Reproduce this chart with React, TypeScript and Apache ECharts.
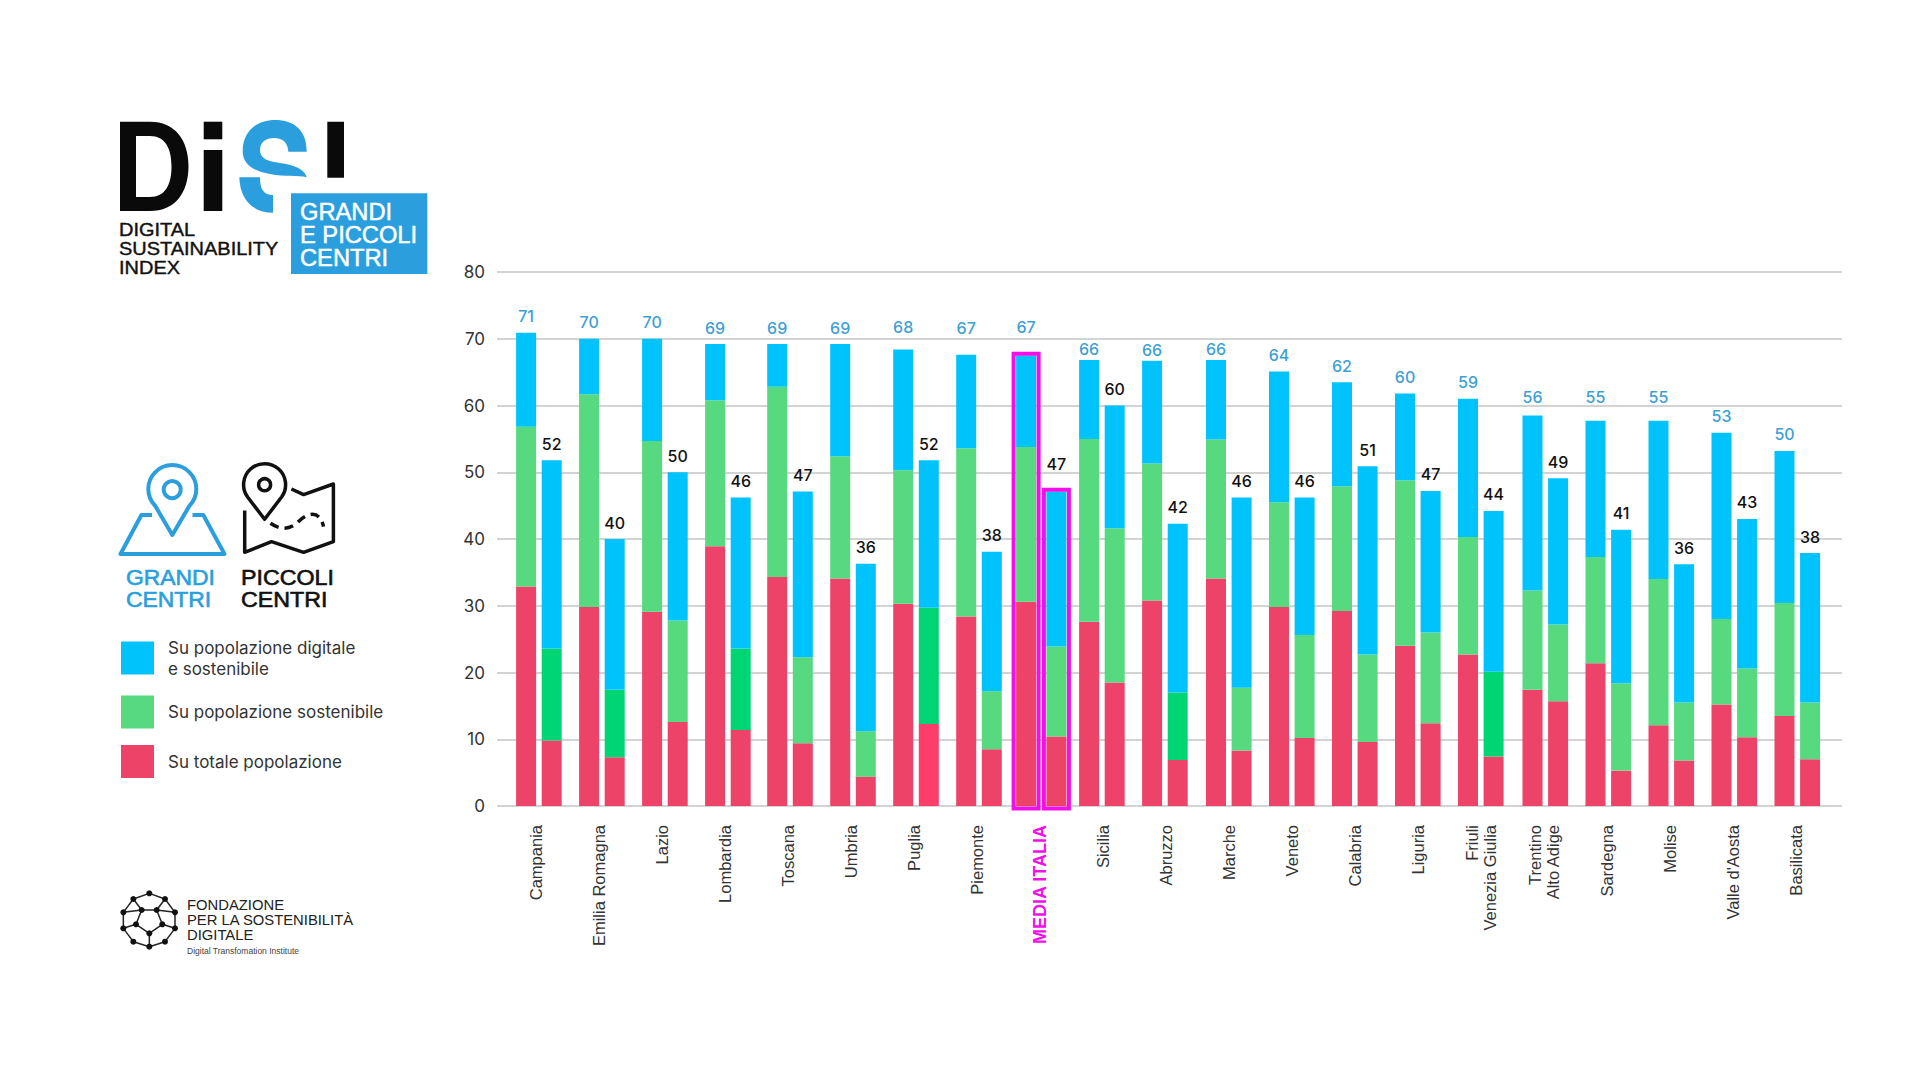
import React, { useEffect, useRef } from "react";
import * as echarts from "echarts";

const regions = [
  "Campania", "Emilia Romagna", "Lazio", "Lombardia", "Toscana", "Umbria", "Puglia",
  "Piemonte", "MEDIA ITALIA", "Sicilia", "Abruzzo", "Marche", "Veneto", "Calabria",
  "Liguria", "Friuli\nVenezia Giulia", "Trentino\nAlto Adige", "Sardegna", "Molise",
  "Valle d'Aosta", "Basilicata",
];
const yTicks = [0, 10, 20, 30, 40, 50, 60, 70, 80];

// heights of each band's upper edge, as read against the gridlines
const grandiRed = [32.9, 29.8, 29.1, 38.9, 34.3, 34.1, 30.3, 28.4, 30.6, 27.6, 30.8, 34.1, 29.8, 29.2, 24.0, 22.7, 17.4, 21.4, 12.1, 15.2, 13.5];
const grandiGreen = [56.8, 61.7, 54.7, 60.8, 62.8, 52.4, 50.3, 53.6, 53.8, 55.0, 51.3, 54.9, 45.5, 47.9, 48.8, 40.3, 32.3, 37.3, 34.0, 28.0, 30.4];
const grandiBlue = [70.9, 70.0, 70.0, 69.2, 69.2, 69.2, 68.4, 67.6, 67.5, 66.8, 66.7, 66.8, 65.1, 63.5, 61.8, 61.0, 58.5, 57.7, 57.7, 55.9, 53.2];
const piccoliRed = [9.8, 7.3, 12.6, 11.4, 9.4, 4.4, 12.3, 8.5, 10.4, 18.5, 6.9, 8.3, 10.2, 9.6, 12.4, 7.4, 15.7, 5.3, 6.8, 10.3, 7.0];
const piccoliGreen = [23.6, 17.4, 27.8, 23.6, 22.3, 11.2, 29.7, 17.2, 23.9, 41.6, 17.0, 17.7, 25.6, 22.7, 26.0, 20.1, 27.2, 18.4, 15.5, 20.6, 15.5];
const piccoliBlue = [51.8, 40.0, 50.0, 46.2, 47.1, 36.3, 51.8, 38.1, 47.1, 60.0, 42.3, 46.2, 46.2, 50.9, 47.2, 44.2, 49.1, 41.4, 36.2, 43.0, 37.9];

// the printed totals
const grandiLabels = [71, 70, 70, 69, 69, 69, 68, 67, 67, 66, 66, 66, 64, 62, 60, 59, 56, 55, 55, 53, 50];
const piccoliLabels = [52, 40, 50, 46, 47, 36, 52, 38, 47, 60, 42, 46, 46, 51, 47, 44, 49, 41, 36, 43, 38];

// piccoli bars printed in a stronger green
const strongGreen = ["Campania", "Emilia Romagna", "Lombardia", "Puglia", "Abruzzo", "Friuli\nVenezia Giulia"];

const RED = "#ED4369";
const GREEN = "#57D97F";
const STRONG_GREEN = "#00D574";
const BLUE = "#00C3FB";
const LOGO_BLUE = "#2B9FDD";
const MAGENTA = "#F20FE8";
const MEDIA = regions.indexOf("MEDIA ITALIA");
const BAR_W = 20;
const NUM_FONT = "Inter";
const TXT_FONT = "Liberation Sans";

// label height above a bar when it isn't the usual one
const grandiLift: Record<number, number> = { 6: 22, 7: 27, 8: 28.6, 9: 11, 10: 11, 11: 11, 16: 18.7, 17: 24, 18: 24 };
const piccoliLift: Record<number, number> = { 8: 27.5 };

// the groups drift a little against the label rhythm in the source
const groupShift = (i: number) => (i < 4 ? -19.7 : i < 8 ? -20.6 : i < 11 ? -23.7 : i < 16 ? -22.8 : -21.3);

echarts.graphic.registerShape("logoD", echarts.graphic.extendPath(
  "M120 121.7H150C175 121.7 188.5 140 188.5 166C188.5 193 175 211 150 211H120ZM136 136V197H150C165 197 171.5 185 171.5 166.5C171.5 148 165 136 150 136Z", {}));
echarts.graphic.registerShape("logoS", echarts.graphic.extendPath(
  "M306.7 151.7C306.7 130 294 120 275 120C256 120 242.7 132 242.7 151C242.7 165 254 171 270 174C285 177 298 175 306.7 177.3C304 168 293 165 280 163C268 161 260 159 260 150C260 142 266 138 274 138C283 138 288 143 288.3 151.7ZM239.3 177.3H260C260 190 264 195 273 195V212.7C253 212.7 240 200 239.3 177.3Z", {}));
echarts.graphic.registerShape("pinBlue", echarts.graphic.extendPath(
  "M172.3 535L155.3 506A24 24 0 1 1 189.3 506ZM152 515H141.4L120.5 554H224.5L203.3 515H192.5", {}));
echarts.graphic.registerShape("pinBlack", echarts.graphic.extendPath(
  "M264.6 519.3L247.6 497A21 21 0 1 1 281.6 497ZM244.7 510.4V552.3L271.5 541.7L303.6 552.3L333.4 541.7V484L303.6 494.6L291.4 489", {}));
echarts.graphic.registerShape("trail", echarts.graphic.extendPath(
  "M270.5 523.3C280 530 290 530 298 522C308 512 320 510 323.5 526.6", {}));

const dodecaNodes = [
  [148, 40], [195, 57], [225, 97], [225, 145], [195, 185], [148, 200], [100, 185], [70, 145], [70, 97], [100, 57],
  [125, 90], [170, 90], [187, 133], [148, 160], [108, 133],
].map(([x, y]) => [x / 3 + 100, y / 3 + 880]);
const dodecaEdges = [
  [0, 1], [1, 2], [2, 3], [3, 4], [4, 5], [5, 6], [6, 7], [7, 8], [8, 9], [9, 0],
  [10, 11], [11, 12], [12, 13], [13, 14], [14, 10],
  [9, 10], [1, 11], [2, 11], [8, 10], [3, 12], [7, 14], [5, 13],
];

const logoGraphics: any[] = [
  { type: "logoD", style: { fill: "#0a0a0a" } },
  { type: "rect", shape: { x: 203.7, y: 121.7, width: 18.6, height: 17.6 }, style: { fill: "#0a0a0a" } },
  { type: "rect", shape: { x: 203.7, y: 150, width: 18.6, height: 61 }, style: { fill: "#0a0a0a" } },
  { type: "logoS", style: { fill: LOGO_BLUE } },
  { type: "rect", shape: { x: 327.3, y: 121.7, width: 16.7, height: 56 }, style: { fill: "#0a0a0a" } },
  { type: "rect", shape: { x: 291, y: 193.3, width: 136.3, height: 80.7 }, style: { fill: LOGO_BLUE } },
  {
    type: "text", x: 300, y: 200, scaleX: 1.03,
    style: { text: "GRANDI\nE PICCOLI\nCENTRI", fill: "#fff", stroke: "#fff", lineWidth: 0.5, font: `23px '${TXT_FONT}'`, lineHeight: 23.3 },
  },
  {
    type: "text", x: 119, y: 220.5, scaleX: 1.11,
    style: { text: "DIGITAL\nSUSTAINABILITY\nINDEX", fill: "#111", stroke: "#111", lineWidth: 0.4, font: `18px '${TXT_FONT}'`, lineHeight: 19 },
  },
  { type: "pinBlue", style: { fill: "none", stroke: LOGO_BLUE, lineWidth: 4, lineJoin: "round" } },
  { type: "circle", shape: { cx: 172.2, cy: 489.6, r: 8.5 }, style: { fill: "none", stroke: LOGO_BLUE, lineWidth: 4 } },
  { type: "pinBlack", style: { fill: "none", stroke: "#111", lineWidth: 3.5, lineJoin: "round" } },
  { type: "circle", shape: { cx: 264.6, cy: 484.7, r: 6 }, style: { fill: "none", stroke: "#111", lineWidth: 3.5 } },
  { type: "trail", style: { fill: "none", stroke: "#111", lineWidth: 3.5, lineDash: [9, 6] } },
  {
    type: "text", x: 126, y: 567, scaleX: 1.065,
    style: { text: "GRANDI\nCENTRI", fill: LOGO_BLUE, stroke: LOGO_BLUE, lineWidth: 0.6, font: `21.5px '${TXT_FONT}'`, lineHeight: 22 },
  },
  {
    type: "text", x: 241, y: 567, scaleX: 1.08,
    style: { text: "PICCOLI\nCENTRI", fill: "#111", stroke: "#111", lineWidth: 0.6, font: `21.5px '${TXT_FONT}'`, lineHeight: 22 },
  },
  ...dodecaEdges.map(([a, b]) => ({
    type: "line",
    shape: { x1: dodecaNodes[a][0], y1: dodecaNodes[a][1], x2: dodecaNodes[b][0], y2: dodecaNodes[b][1] },
    style: { stroke: "#222", lineWidth: 1.5 },
  })),
  ...dodecaNodes.map(([cx, cy]) => ({ type: "circle", shape: { cx, cy, r: 3 }, style: { fill: "#111" } })),
  {
    type: "text", x: 187, y: 897.5,
    style: { text: "FONDAZIONE\nPER LA SOSTENIBILITÀ\nDIGITALE", fill: "#222", font: `14.8px '${TXT_FONT}'`, lineHeight: 15 },
  },
  {
    type: "text", x: 187, y: 946,
    style: { text: "Digital Transfomation Institute", fill: "#444", font: `8.5px '${TXT_FONT}'` },
  },
];

const makeBand = (color: string, rows: number[][], withTotals: boolean) => ({
  type: "custom",
  xAxisIndex: 1,
  yAxisIndex: 1,
  name:
    color === RED ? "Su totale popolazione" : color === GREEN ? "Su popolazione sostenibile" : "Su popolazione digitale\ne sostenibile",
  itemStyle: { color },
  encode: { x: 0, y: [1, 2, 3, 4] },
  data: rows,
  clip: false,
  z: withTotals ? 4 : 3,
  renderItem: (_p: any, api: any) => {
    const i = api.value(0);
    const centre = api.coord([i, 0])[0];
    const isMedia = i === MEDIA;
    const gx = centre + groupShift(i);
    const px = gx + (isMedia ? 30.3 : 25.6);
    const baseY = api.coord([i, 0])[1];
    const bar = (x: number, lo: number, hi: number, fill: string) => {
      const y0 = api.coord([i, lo])[1];
      const y1 = api.coord([i, hi])[1];
      return { type: "rect", shape: { x, y: y1, width: BAR_W, height: y0 - y1 }, style: { fill } };
    };
    let pFill = color;
    if (color === GREEN && strongGreen.includes(regions[i])) pFill = STRONG_GREEN;
    if (color === RED && regions[i] === "Puglia") pFill = "#FF3D6B";
    const children: any[] = [
      bar(gx, api.value(1), api.value(2), color),
      bar(px, api.value(3), api.value(4), pFill),
    ];
    if (withTotals) {
      const gTop = api.coord([i, api.value(2)])[1];
      const pTop = api.coord([i, api.value(4)])[1];
      children.push(
        {
          type: "text", x: gx + BAR_W / 2, y: gTop - (grandiLift[i] ?? 16.5),
          style: { text: String(grandiLabels[i]), fill: "#3E9FD4", font: `500 16px '${NUM_FONT}'`, textAlign: "center", textVerticalAlign: "middle" },
        },
        {
          type: "text", x: px + BAR_W / 2, y: pTop - (piccoliLift[i] ?? 16.5),
          style: { text: String(piccoliLabels[i]), fill: "#111", font: `500 16px '${NUM_FONT}'`, textAlign: "center", textVerticalAlign: "middle" },
        },
      );
      if (isMedia) {
        const box = (x: number, top: number) => ({
          type: "rect",
          shape: { x: x - 2.5, y: top - 1.8, width: BAR_W + 5, height: baseY - top + 4.3 },
          style: { fill: "none", stroke: MAGENTA, lineWidth: 4 },
        });
        children.push(box(gx, gTop), box(px, pTop));
      }
    }
    return { type: "group", children };
  },
});

const redRows = regions.map((_, i) => [i, 0, grandiRed[i], 0, piccoliRed[i]]);
const greenRows = regions.map((_, i) => [i, grandiRed[i], grandiGreen[i], piccoliRed[i], piccoliGreen[i]]);
const blueRows = regions.map((_, i) => [i, grandiGreen[i], grandiBlue[i], piccoliGreen[i], piccoliBlue[i]]);

const App: React.FC = () => {
  const chartRef = useRef<HTMLDivElement>(null);

  useEffect(() => {
    if (!chartRef.current) return;
    const myChart = echarts.init(chartRef.current, null, { renderer: "svg" });
    myChart.setOption({
      animation: false,
      backgroundColor: "#fff",
      grid: [
        { left: 497, top: 272, width: 1345, height: 534 },
        { left: 504.3, top: 272, width: 1323, height: 534 },
      ],
      legend: {
        left: 121,
        top: 637,
        padding: 0,
        orient: "vertical",
        itemWidth: 33,
        itemHeight: 33,
        itemGap: 16.5,
        icon: "rect",
        selectedMode: false,
        data: ["Su popolazione digitale\ne sostenibile", "Su popolazione sostenibile", "Su totale popolazione"],
        textStyle: { fontFamily: NUM_FONT, fontSize: 17, color: "#333", lineHeight: 21, padding: [0, 0, 0, 9] },
      },
      xAxis: [
        { type: "category", gridIndex: 0, show: false, data: regions },
        {
          type: "category",
          gridIndex: 1,
          data: regions.map((r, i) =>
            i === MEDIA ? { value: r, textStyle: { color: MAGENTA, fontWeight: "bold", fontSize: 18 } } : r,
          ),
          axisLine: { show: false },
          axisTick: { show: false },
          axisLabel: {
            interval: 0,
            rotate: 90,
            margin: 19,
            fontFamily: TXT_FONT,
            fontSize: 16.5,
            lineHeight: 18,
            color: "#333",
          },
        },
      ],
      yAxis: [
        {
          type: "value",
          gridIndex: 0,
          min: yTicks[0],
          max: yTicks[yTicks.length - 1],
          interval: yTicks[1] - yTicks[0],
          axisLine: { show: false },
          axisTick: { show: false },
          axisLabel: { margin: 12, fontFamily: NUM_FONT, fontSize: 17, color: "#333" },
          splitLine: { lineStyle: { color: "#C4C4C4", width: 1.5 } },
        },
        { type: "value", gridIndex: 1, min: 0, max: 80, show: false, splitLine: { show: false } },
      ],
      graphic: { elements: logoGraphics },
      series: [
        makeBand(RED, redRows, false),
        makeBand(GREEN, greenRows, false),
        makeBand(BLUE, blueRows, true),
      ],
    });

    return () => {
      myChart.dispose();
    };
  }, []);

  return <div ref={chartRef} style={{ position: "fixed", left: 0, top: 0, width: 1920, height: 1080 }} />;
};

export default App;
